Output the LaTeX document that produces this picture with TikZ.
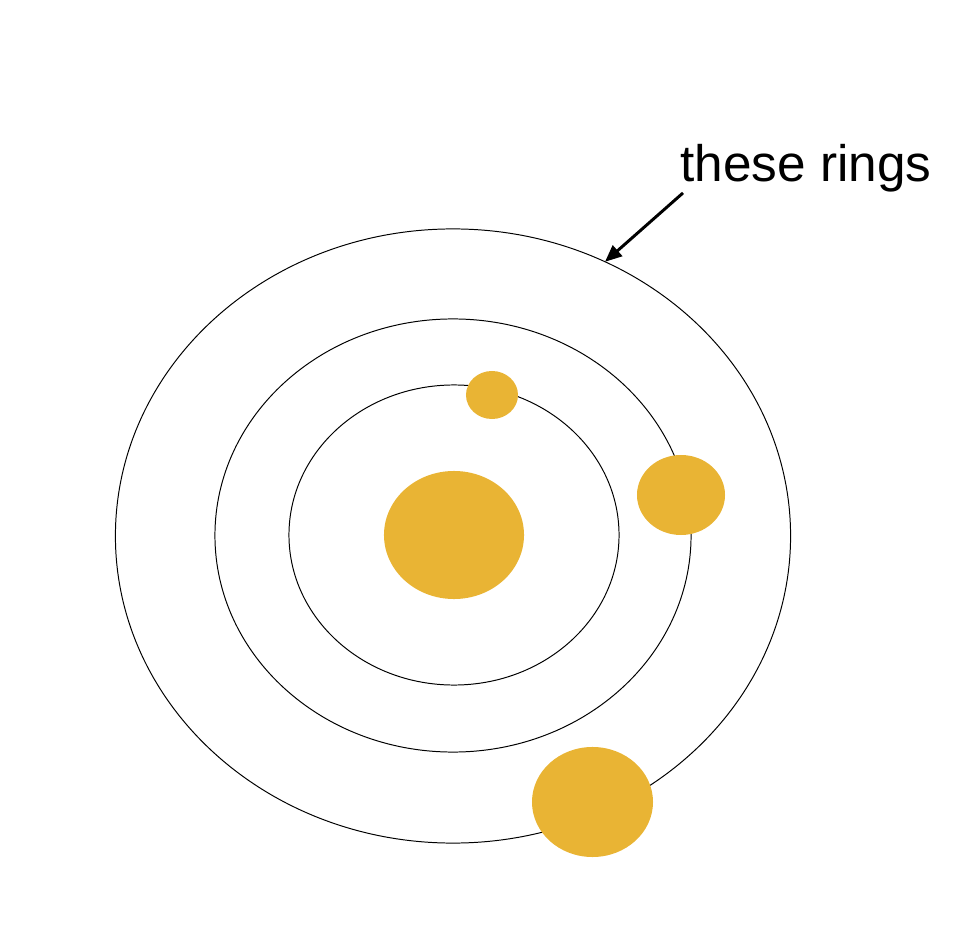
\documentclass[tikz,border=0pt]{standalone}
\usepackage{fontspec}
\setmainfont{Liberation Sans}
\usetikzlibrary{positioning, arrows.meta, shapes.geometric}
\definecolor{planetgold}{RGB}{233,180,52}

\begin{document}
\begin{tikzpicture}[
  x=0.025cm, y=-0.025cm,
  >={Triangle[length=12pt, width=10pt]},
  ring/.style={
    draw=black, ellipse, line width=0.7pt,
    inner sep=0pt, outer sep=0pt
  },
  planet/.style={
    fill=planetgold, ellipse, draw=none,
    inner sep=0pt, outer sep=0pt
  },
  label/.style={font=\fontsize{36.5}{41}\selectfont, inner sep=0pt},
  arr/.style={->, line width=2.1pt}
]
\useasboundingbox (0,0) rectangle (976,952);

% Rings
\node[ring, minimum width=16.875cm, minimum height=15.35cm] (outer) at (453,536) {};
\node[ring, minimum width=11.9cm, minimum height=10.825cm] (middle) at (453,535.5) {};
\node[ring, minimum width=8.25cm, minimum height=7.5cm] (inner) at (454,535) {};

% Sun and planets
\node[planet, minimum width=3.5cm, minimum height=3.2cm] (sun) at (454,535) {};
\node[planet, minimum width=1.3cm, minimum height=1.2cm] (small) at (492,395) {};
\node[planet, minimum width=2.2cm, minimum height=2.0cm] (right) at (681,495) {};
\node[planet, minimum width=3.025cm, minimum height=2.75cm] (bottom) at (592.5,802) {};

% Label and pointer
\node[label, anchor=base west] (rings) at (680,182) {these rings};
\draw[arr] ([xshift=0.075cm]rings.south west) -- (outer.61.5);
\end{tikzpicture}
\end{document}
